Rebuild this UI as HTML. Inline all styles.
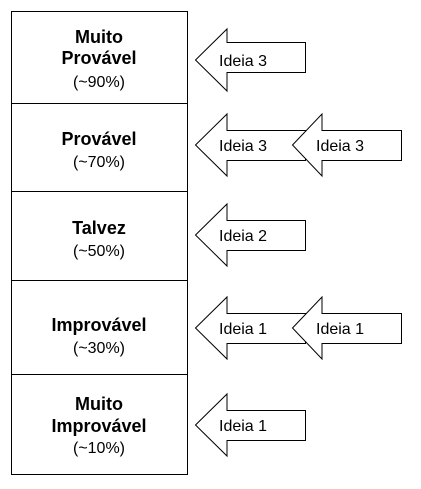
<!DOCTYPE html>
<html><head><style>body{margin:0;background:#fff}</style></head><body>
<svg width="421" height="484" xmlns="http://www.w3.org/2000/svg" font-family="Liberation Sans, sans-serif" text-anchor="middle">
<g fill="#fff" stroke="#000" stroke-width="1">
<rect x="11.5" y="11.5" width="176" height="463"/>
<line x1="11" y1="103.5" x2="188" y2="103.5"/>
<line x1="11" y1="191.5" x2="188" y2="191.5"/>
<line x1="11" y1="280.5" x2="188" y2="280.5"/>
<line x1="11" y1="374.5" x2="188" y2="374.5"/>
</g>
<g font-size="18" font-weight="bold" fill="#000">
<text x="99" y="43">Muito</text><text x="99" y="64">Provável</text>
<text x="99" y="145">Provável</text>
<text x="99" y="234">Talvez</text>
<text x="99" y="331">Improvável</text>
<text x="99" y="410">Muito</text><text x="99" y="432">Improvável</text>
</g>
<g font-size="16" fill="#000">
<text x="99" y="87">(~90%)</text>
<text x="99" y="167">(~70%)</text>
<text x="99" y="256">(~50%)</text>
<text x="99" y="353">(~30%)</text>
<text x="99" y="453">(~10%)</text>
</g>
<g fill="#fff" stroke="#000" stroke-width="1">
<path d="M195.5 60 L227 29 V42.5 H305.5 V72.5 H227 V91 Z"/>
<path d="M195.5 145 L227 114 V130.5 H305.5 V160.5 H227 V176 Z"/>
<path d="M292.5 145 L322 114 V130.5 H401.5 V160.5 H322 V176 Z"/>
<path d="M195.5 235 L227 204 V220.5 H305.5 V250.5 H227 V266 Z"/>
<path d="M195.5 328 L227 297 V313.5 H305.5 V343.5 H227 V359 Z"/>
<path d="M292.5 328 L322 297 V313.5 H401.5 V343.5 H322 V359 Z"/>
<path d="M195.5 425 L227 394 V410.5 H305.5 V440.5 H227 V456 Z"/>
</g>
<g font-size="16" fill="#000" text-anchor="start">
<text x="219" y="66">Ideia 3</text>
<text x="219" y="151">Ideia 3</text>
<text x="316" y="151">Ideia 3</text>
<text x="219" y="241">Ideia 2</text>
<text x="219" y="334">Ideia 1</text>
<text x="316" y="334">Ideia 1</text>
<text x="219" y="431">Ideia 1</text>
</g>
</svg>
</body></html>
